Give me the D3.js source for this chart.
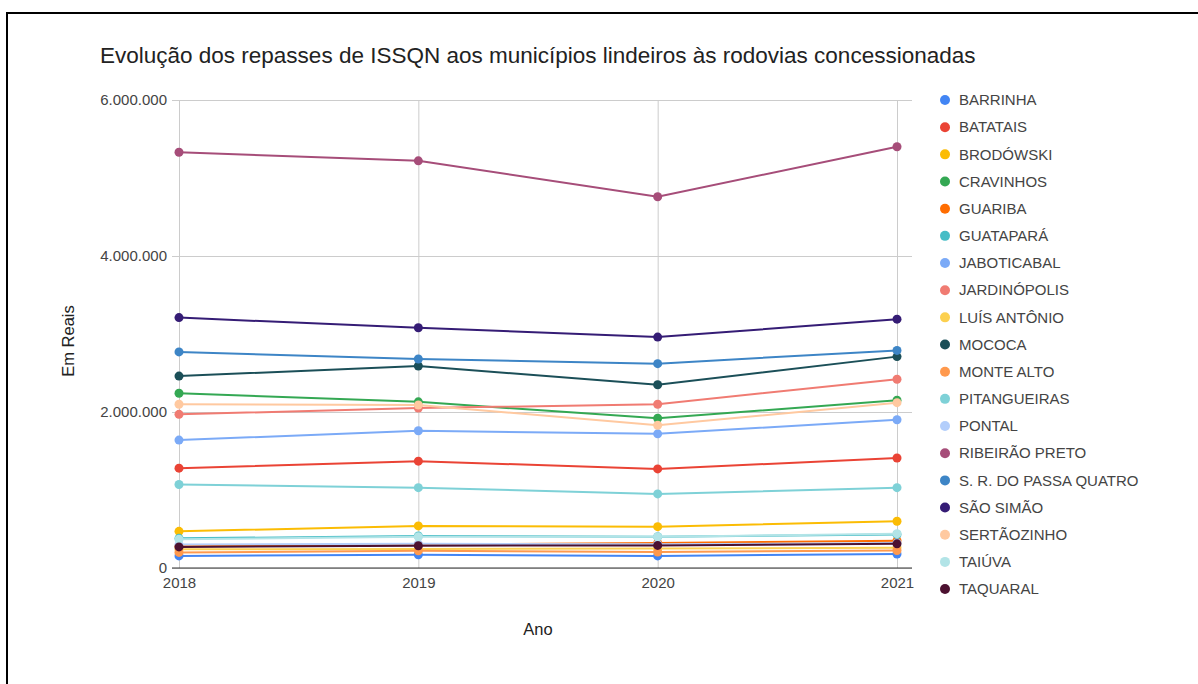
<!DOCTYPE html>
<html>
<head>
<meta charset="utf-8">
<script src="https://cdn.jsdelivr.net/npm/d3@7"></script>
<style>
  body { margin: 0; background: #fff; }
  svg { display: block; font-family: "Liberation Sans", Arial, sans-serif; }
</style>
</head>
<body>
<svg id="chart"></svg>
<script>
const years = ['2018', '2019', '2020', '2021'];

const names = [
  'BARRINHA', 'BATATAIS', 'BRODÓWSKI', 'CRAVINHOS', 'GUARIBA', 'GUATAPARÁ',
  'JABOTICABAL', 'JARDINÓPOLIS', 'LUÍS ANTÔNIO', 'MOCOCA', 'MONTE ALTO',
  'PITANGUEIRAS', 'PONTAL', 'RIBEIRÃO PRETO', 'S. R. DO PASSA QUATRO',
  'SÃO SIMÃO', 'SERTÃOZINHO', 'TAIÚVA', 'TAQUARAL'
];

const colors = [
  '#4285f4', '#ea4335', '#fbbc04', '#34a853', '#ff6d01', '#46bdc6',
  '#7baaf7', '#f07b72', '#fcd04f', '#1b4f58', '#ff994d',
  '#7ed1d7', '#b3cefb', '#a64d79', '#3d85c6',
  '#351c75', '#ffc9a0', '#b2e4e7', '#4c1130'
];

// values in reais, one array per municipality
const barrinha = [155000, 170000, 155000, 180000];
const batatais = [1280000, 1370000, 1270000, 1410000];
const brodowski = [470000, 540000, 530000, 600000];
const cravinhos = [2240000, 2130000, 1920000, 2150000];
const guariba = [280000, 300000, 320000, 350000];
const guatapara = [380000, 410000, 400000, 430000];
const jaboticabal = [1640000, 1760000, 1720000, 1900000];
const jardinopolis = [1970000, 2050000, 2100000, 2420000];
const luisAntonio = [240000, 245000, 250000, 260000];
const mococa = [2460000, 2590000, 2350000, 2710000];
const monteAlto = [200000, 220000, 205000, 225000];
const pitangueiras = [1070000, 1030000, 950000, 1030000];
const pontal = [300000, 310000, 305000, 320000];
const ribeiraoPreto = [5330000, 5220000, 4760000, 5400000];
const srPassaQuatro = [2770000, 2680000, 2620000, 2790000];
const saoSimao = [3210000, 3080000, 2960000, 3190000];
const sertaozinho = [2100000, 2090000, 1830000, 2120000];
const taiuva = [370000, 400000, 400000, 440000];
const taquaral = [270000, 285000, 290000, 310000];

const seriesValues = [
  barrinha, batatais, brodowski, cravinhos, guariba, guatapara,
  jaboticabal, jardinopolis, luisAntonio, mococa, monteAlto,
  pitangueiras, pontal, ribeiraoPreto, srPassaQuatro,
  saoSimao, sertaozinho, taiuva, taquaral
];

const yTicks = [0, 2000000, 4000000, 6000000];

const width = 1198;
const height = 684;
const plot = { left: 172, right: 912, top: 100, bottom: 568 };
const font = '"Liberation Sans", Arial, sans-serif';

const svg = d3.select('#chart')
    .attr('width', width)
    .attr('height', height);

// frame
svg.append('path')
    .attr('d', `M7,${height} V13 H${width}`)
    .attr('fill', 'none')
    .attr('stroke', '#000')
    .attr('stroke-width', 2);

svg.append('text')
    .attr('x', 100)
    .attr('y', 63)
    .attr('font-size', 22.5)
    .attr('fill', '#222')
    .text('Evolução dos repasses de ISSQN aos municípios lindeiros às rodovias concessionadas');

const x = d3.scalePoint()
    .domain(years)
    .range([179, 897]);

const y = d3.scaleLinear()
    .domain([0, 6000000])
    .range([plot.bottom, plot.top]);

const fmt = d => d3.format(',')(d).replace(/,/g, '.');

// horizontal gridlines + labels
const yAxis = svg.append('g')
    .attr('transform', `translate(${plot.left},0)`)
    .call(d3.axisLeft(y).tickValues(yTicks).tickFormat(fmt)
      .tickSize(-(plot.right - plot.left)).tickPadding(5));
yAxis.select('.domain').remove();
yAxis.selectAll('line').attr('stroke', '#ccc');
yAxis.selectAll('text').attr('font-size', 15).attr('fill', '#444')
    .attr('font-family', font);

// vertical gridlines + labels
const xAxis = svg.append('g')
    .attr('transform', `translate(0,${plot.bottom})`)
    .call(d3.axisBottom(x).tickSize(-(plot.bottom - plot.top)).tickPadding(9));
xAxis.select('.domain').remove();
xAxis.selectAll('line').attr('stroke', '#ccc');
xAxis.selectAll('text').attr('font-size', 15).attr('fill', '#444')
    .attr('font-family', font);

// baseline
svg.append('line')
    .attr('x1', plot.left).attr('x2', plot.right)
    .attr('y1', y(0)).attr('y2', y(0))
    .attr('stroke', '#333');

// axis titles
svg.append('text')
    .attr('transform', `translate(74,341) rotate(-90)`)
    .attr('text-anchor', 'middle')
    .attr('font-size', 16.5)
    .attr('fill', '#222')
    .text('Em Reais');

svg.append('text')
    .attr('x', 538)
    .attr('y', 635)
    .attr('text-anchor', 'middle')
    .attr('font-size', 16.5)
    .attr('fill', '#222')
    .text('Ano');

const line = d3.line()
    .x((d, i) => x(years[i]))
    .y(d => y(d));

const series = svg.selectAll('.series')
    .data(seriesValues)
  .enter().append('g')
    .attr('class', 'series');

series.append('path')
    .attr('d', d => line(d))
    .attr('fill', 'none')
    .attr('stroke', (d, i) => colors[i])
    .attr('stroke-width', 2);

series.selectAll('circle')
    .data((d, i) => d.map(v => ({ v, c: colors[i] })))
  .enter().append('circle')
    .attr('cx', (d, i) => x(years[i]))
    .attr('cy', d => y(d.v))
    .attr('r', 4.5)
    .attr('fill', d => d.c);

// legend
const legend = svg.selectAll('.legend')
    .data(names)
  .enter().append('g')
    .attr('class', 'legend')
    .attr('transform', (d, i) => `translate(945,${100 + i * 27.17})`);

legend.append('circle')
    .attr('r', 5)
    .attr('fill', (d, i) => colors[i]);

legend.append('text')
    .attr('x', 14)
    .attr('dy', '0.35em')
    .attr('font-size', 15)
    .attr('fill', '#444')
    .text(d => d);
</script>
</body>
</html>
